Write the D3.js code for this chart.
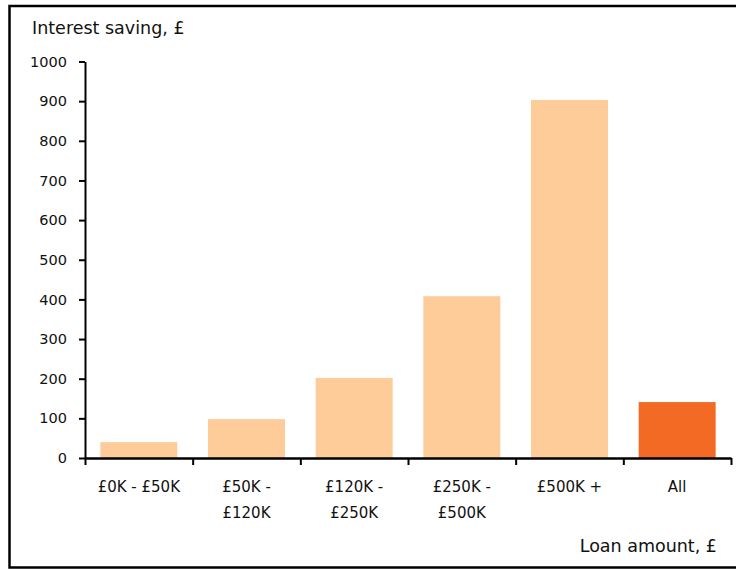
<!DOCTYPE html>
<head>
  <meta charset="utf-8">
  <title>Interest saving by loan amount</title>
  <style>
    body { margin: 0; background: #fff; }
    text { font-family: "DejaVu Sans", Verdana, sans-serif; fill: #111; }
  </style>
</head>
<body>
<script src="https://d3js.org/d3.v7.min.js"></script>
<script>
// chart data
var categories = ["£0K - £50K", "£50K - £120K", "£120K - £250K", "£250K - £500K", "£500K +", "All"];
var labelLines = [["£0K - £50K"], ["£50K -", "£120K"], ["£120K -", "£250K"], ["£250K -", "£500K"], ["£500K +"], ["All"]];
var savings = [40, 98, 202, 408, 903, 141];
var yTicks = [0, 100, 200, 300, 400, 500, 600, 700, 800, 900, 1000];

var width = 736, height = 569;
var margin = {top: 61.5, left: 85, right: 5, bottom: 111};

var svg = d3.select("body").append("svg")
    .attr("width", width)
    .attr("height", height);

// outer frame (open on the right)
svg.append("path")
    .attr("d", "M740,6H9.5V567.5H740")
    .attr("fill", "none")
    .attr("stroke", "#000")
    .attr("stroke-width", 2.5);

var x = d3.scaleBand()
    .domain(categories)
    .range([margin.left, 731])
    .paddingInner(0.285)
    .paddingOuter(0.1425);

var y = d3.scaleLinear()
    .domain([0, 1000])
    .range([458, margin.top]);

// bars
svg.selectAll(".bar")
    .data(categories)
  .enter().append("rect")
    .attr("class", "bar")
    .attr("x", function(d) { return x(d); })
    .attr("width", x.bandwidth())
    .attr("y", function(d, i) { return y(savings[i]); })
    .attr("height", function(d, i) { return y(0) - y(savings[i]); })
    .attr("fill", function(d) { return d === "All" ? "#f26a24" : "#fdcc98"; });

// y axis
var yAxis = svg.append("g")
    .attr("transform", "translate(" + margin.left + ",0)")
    .call(d3.axisLeft(y).tickValues(yTicks).tickFormat(d3.format("d"))
      .tickSize(6).tickSizeOuter(0).tickPadding(12));
yAxis.select(".domain").attr("stroke-width", 2);
yAxis.selectAll(".tick line").attr("stroke-width", 2);
yAxis.selectAll(".tick text")
    .style("font-family", "'DejaVu Sans', Verdana, sans-serif")
    .style("font-size", "14.5px").attr("fill", "#111");

// x axis with boundary ticks between categories
var bounds = d3.scaleLinear().domain([0, categories.length]).range([margin.left, 731]);
var xAxis = svg.append("g")
    .attr("transform", "translate(0," + y(0) + ")")
    .call(d3.axisBottom(bounds).tickValues(d3.range(categories.length + 1)).tickSize(7).tickSizeOuter(0).tickFormat(""));
xAxis.select(".domain").attr("stroke-width", 2.5);
xAxis.selectAll(".tick line").attr("stroke-width", 2);

// category labels
svg.selectAll(".xlab")
    .data(categories)
  .enter().append("text")
    .attr("class", "xlab")
    .attr("text-anchor", "middle")
    .style("font-size", "15px")
    .attr("x", function(d) { return x(d) + x.bandwidth() / 2; })
    .attr("y", 492)
    .each(function(d, i) {
      var t = d3.select(this);
      labelLines[i].forEach(function(line, j) {
        t.append("tspan")
          .attr("x", x(d) + x.bandwidth() / 2)
          .attr("dy", j === 0 ? 0 : 26)
          .text(line);
      });
    });

// axis titles
svg.append("text")
    .attr("x", 32)
    .attr("y", 34)
    .style("font-size", "17.5px")
    .text("Interest saving, £");

svg.append("text")
    .attr("x", 717)
    .attr("y", 552)
    .attr("text-anchor", "end")
    .style("font-size", "17.5px")
    .text("Loan amount, £");
</script>
</body>
